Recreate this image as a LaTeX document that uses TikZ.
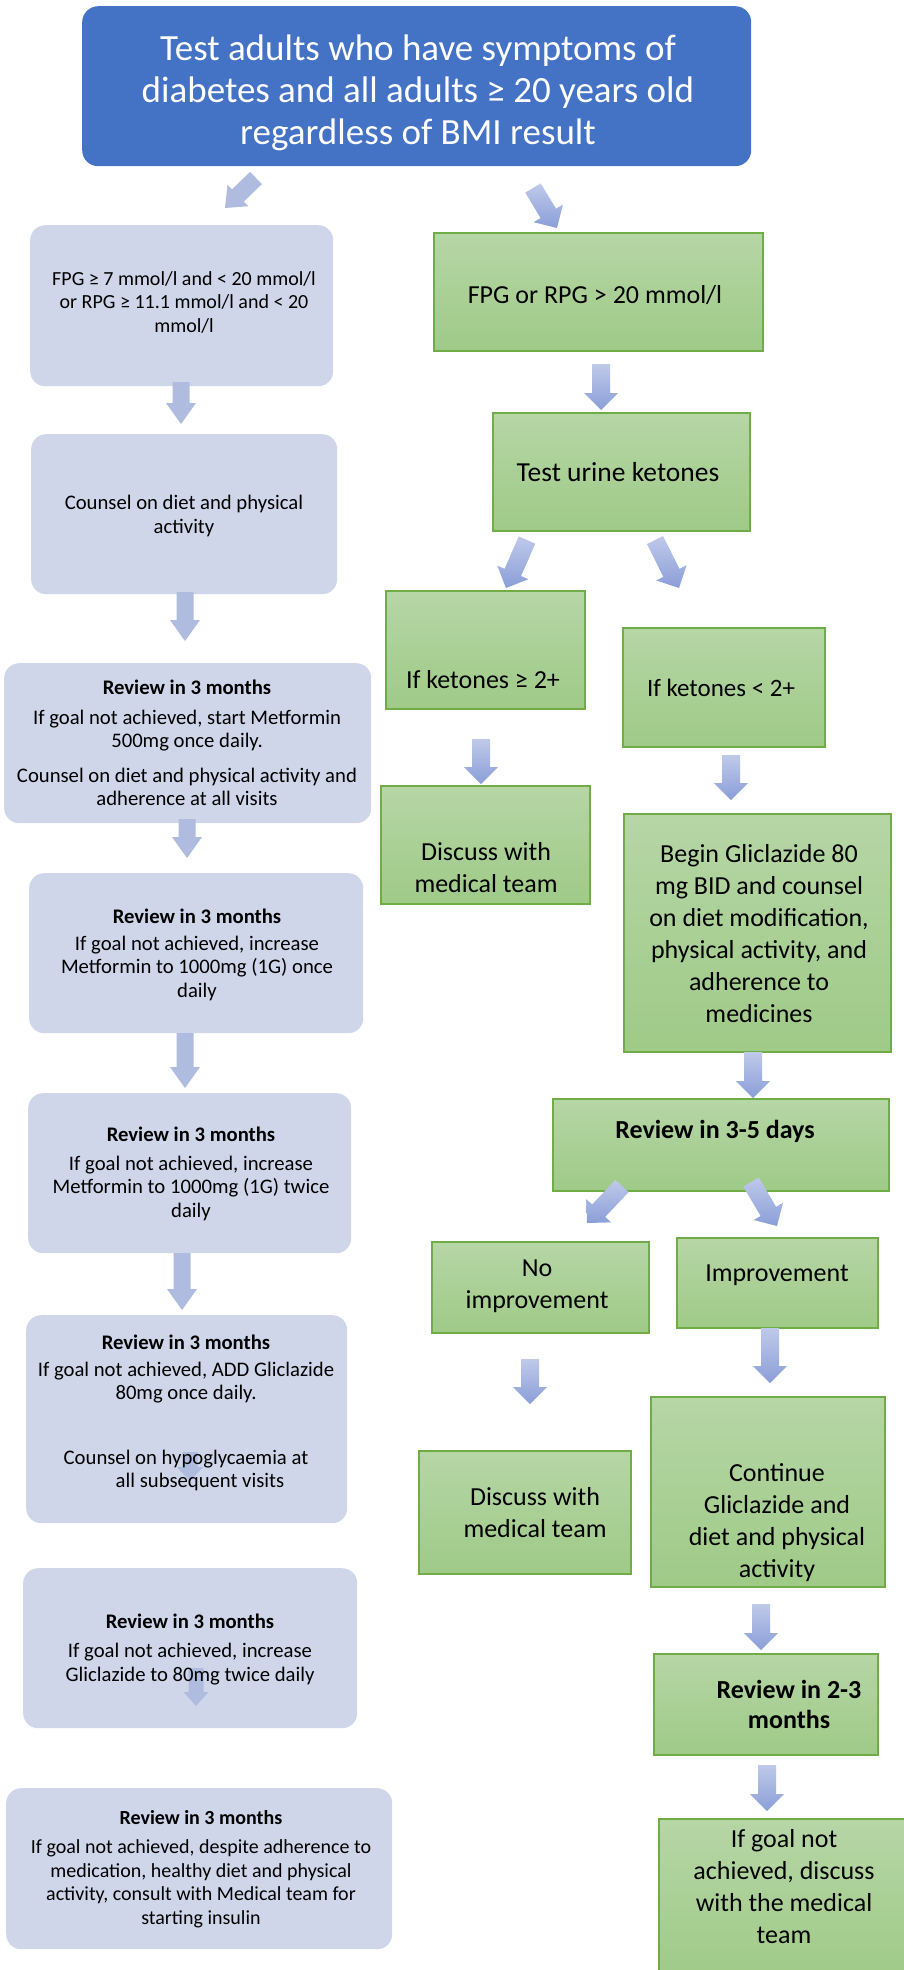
\documentclass[tikz,border=0pt]{standalone}
\usepackage{fontspec}
\setmainfont{Carlito}
\usetikzlibrary{calc}
\definecolor{topblue}{HTML}{4472C4}
\definecolor{lavbox}{HTML}{D0D6EA}
\definecolor{lavarrow}{HTML}{AFBCDF}
\definecolor{garrowtop}{HTML}{BFC9E9}
\definecolor{garrowbot}{HTML}{8A9ED8}
\definecolor{gtop}{HTML}{B6D6A6}
\definecolor{gbot}{HTML}{9FCA87}
\definecolor{gborder}{HTML}{70AD47}
\newcommand{\fatarrow}[6]{%
  \coordinate (fa-h) at ($(#3)!#6!(#2)$);
  \path[#1] ($(#2)!#4!90:(#3)$) -- ($(fa-h)!#4!-90:(#2)$) -- ($(fa-h)!#5!-90:(#2)$) -- (#3)
    -- ($(fa-h)!#5!90:(#2)$) -- ($(fa-h)!#4!90:(#2)$) -- ($(#2)!#4!-90:(#3)$) -- cycle;
}
\tikzset{
  bluebox/.style={fill=topblue, rounded corners=16pt, anchor=north west, inner sep=0pt},
  lbox/.style={fill=lavbox, rounded corners=15pt, anchor=north west, inner sep=0pt},
  gbox/.style={top color=gtop, bottom color=gbot, draw=gborder, line width=1.6pt, anchor=north west, inner sep=0pt},
  btext/.style={font=\fontsize{37}{42}\selectfont, text=white, align=center, inner sep=0pt},
  ltext/.style={font=\fontsize{20.7}{23.5}\selectfont, align=center, inner sep=0pt},
  gtext/.style={font=\fontsize{26}{32}\selectfont, align=center, inner sep=0pt},
  flatarrow/.style={fill=lavarrow},
  shadearrow/.style={top color=garrowtop, bottom color=garrowbot},
}
\begin{document}
\begin{tikzpicture}[x=1pt, y=-1pt]
\useasboundingbox (0,0) rectangle (904,1970);

% ---------- top box ----------
\node[bluebox, minimum width=669pt, minimum height=160pt] (T) at (82,6) {};
\node[btext] (Tt) at (418,93) {Test adults who have symptoms of\\diabetes and all adults ≥ 20 years old\\regardless of BMI result};

% ---------- left column boxes ----------
\node[lbox, minimum width=303pt, minimum height=161pt] (L1) at (30,225) {};
\node[lbox, minimum width=306pt, minimum height=160pt] (L2) at (31,434) {};
\node[lbox, minimum width=367pt, minimum height=160pt] (L3) at (4,663) {};
\node[lbox, minimum width=334pt, minimum height=160pt] (L4) at (29,873) {};
\node[lbox, minimum width=323pt, minimum height=160pt] (L5) at (28,1093) {};
\node[lbox, minimum width=321pt, minimum height=208pt] (L6) at (26,1315) {};
\node[lbox, minimum width=334pt, minimum height=160pt] (L7) at (23,1568) {};
\node[lbox, minimum width=386pt, minimum height=161pt] (L8) at (6,1788) {};

% ---------- right column boxes ----------
\node[gbox, minimum width=329pt, minimum height=118pt] (G1) at (433,232) {};
\node[gbox, minimum width=257pt, minimum height=118pt] (G2) at (492,412) {};
\node[gbox, minimum width=199pt, minimum height=118pt] (G3) at (385,590) {};
\node[gbox, minimum width=202pt, minimum height=119pt] (G4) at (622,627) {};
\node[gbox, minimum width=209pt, minimum height=118pt] (G5) at (380,785) {};
\node[gbox, minimum width=267pt, minimum height=238pt] (G6) at (623,813) {};
\node[gbox, minimum width=336pt, minimum height=92pt] (G7) at (552,1098) {};
\node[gbox, minimum width=217pt, minimum height=91pt] (G8) at (431,1241) {};
\node[gbox, minimum width=201pt, minimum height=90pt] (G9) at (676,1237) {};
\node[gbox, minimum width=212pt, minimum height=123pt] (G10) at (418,1450) {};
\node[gbox, minimum width=234pt, minimum height=190pt] (G11) at (650,1396) {};
\node[gbox, minimum width=224pt, minimum height=101pt] (G12) at (653,1653) {};
\node[gbox, minimum width=257pt, minimum height=162pt] (G13) at (658,1818) {};

% ---------- arrow end points ----------
\coordinate (a0s) at (256,178);  \coordinate (a0e) at (225,208);
\coordinate (a1s) at (181,382);  \coordinate (a1e) at (181,424);
\coordinate (a2s) at (185,592);  \coordinate (a2e) at (185,641);
\coordinate (a3s) at (187,819);  \coordinate (a3e) at (187,858);
\coordinate (a4s) at (185,1033); \coordinate (a4e) at (185,1088);
\coordinate (a5s) at (182,1253); \coordinate (a5e) at (182,1310);
\coordinate (a6s) at (190,1452); \coordinate (a6e) at (190,1481);
\coordinate (a7s) at (196,1668); \coordinate (a7e) at (196,1706);

\coordinate (b0s) at (533,188);  \coordinate (b0e) at (557,228);
\coordinate (b1s) at (601,364);  \coordinate (b1e) at (601,410);
\coordinate (b2s) at (527,540);  \coordinate (b2e) at (506,588);
\coordinate (b3s) at (655,540);  \coordinate (b3e) at (679,588);
\coordinate (b4s) at (481,739);  \coordinate (b4e) at (481,784);
\coordinate (b5s) at (731,755);  \coordinate (b5e) at (731,800);
\coordinate (b6s) at (753,1052); \coordinate (b6e) at (753,1098);
\coordinate (b7s) at (622,1186); \coordinate (b7e) at (587,1223);
\coordinate (b8s) at (751,1182); \coordinate (b8e) at (777,1226);
\coordinate (b9s) at (530,1359); \coordinate (b9e) at (530,1404);
\coordinate (b10s) at (770,1328); \coordinate (b10e) at (770,1383);
\coordinate (b11s) at (761,1604); \coordinate (b11e) at (761,1650);
\coordinate (b12s) at (767,1765); \coordinate (b12e) at (767,1811);

% ---------- left arrows ----------
\fatarrow{flatarrow}{a0s}{a0e}{8.5pt}{15pt}{18pt}
\fatarrow{flatarrow}{a1s}{a1e}{8.5pt}{15pt}{21pt}
\fatarrow{flatarrow}{a2s}{a2e}{8.5pt}{15pt}{21pt}
\fatarrow{flatarrow}{a3s}{a3e}{8.5pt}{15pt}{21pt}
\fatarrow{flatarrow}{a4s}{a4e}{8.5pt}{15pt}{21pt}
\fatarrow{flatarrow}{a5s}{a5e}{8.5pt}{15pt}{21pt}
\fatarrow{flatarrow}{a6s}{a6e}{7.5pt}{13pt}{14pt}
\fatarrow{flatarrow}{a7s}{a7e}{7.5pt}{12.5pt}{14pt}

% ---------- right arrows ----------
\fatarrow{shadearrow}{b0s}{b0e}{9pt}{17pt}{17pt}
\fatarrow{shadearrow}{b1s}{b1e}{9pt}{17pt}{17pt}
\fatarrow{shadearrow}{b2s}{b2e}{9pt}{17pt}{17pt}
\fatarrow{shadearrow}{b3s}{b3e}{9pt}{17pt}{17pt}
\fatarrow{shadearrow}{b4s}{b4e}{9pt}{17pt}{17pt}
\fatarrow{shadearrow}{b5s}{b5e}{9pt}{17pt}{17pt}
\fatarrow{shadearrow}{b6s}{b6e}{9pt}{17pt}{17pt}
\fatarrow{shadearrow}{b7s}{b7e}{9pt}{17pt}{17pt}
\fatarrow{shadearrow}{b8s}{b8e}{9pt}{17pt}{17pt}
\fatarrow{shadearrow}{b9s}{b9e}{9pt}{17pt}{17pt}
\fatarrow{shadearrow}{b10s}{b10e}{9pt}{17pt}{17pt}
\fatarrow{shadearrow}{b11s}{b11e}{9pt}{17pt}{17pt}
\fatarrow{shadearrow}{b12s}{b12e}{9pt}{17pt}{17pt}

% ---------- left texts ----------
\node[ltext, font=\fontsize{20}{23.5}\selectfont] (L1t) at (184,302) {FPG ≥ 7 mmol/l and < 20 mmol/l\\or RPG ≥ 11.1 mmol/l and < 20\\mmol/l};
\node[ltext] (L2t) at (184,516) {Counsel on diet and physical\\activity};
\node[ltext] (L3t) at (187,743) {\textbf{Review in 3 months}\\[6pt]If goal not achieved, start Metformin\\500mg once daily.\\[11pt]Counsel on diet and physical activity and\\adherence at all visits};
\node[ltext] (L4t) at (197,955) {\textbf{Review in 3 months}\\[3pt]If goal not achieved, increase\\Metformin to 1000mg (1G) once\\daily};
\node[ltext] (L5t) at (191,1174) {\textbf{Review in 3 months}\\[5pt]If goal not achieved, increase\\Metformin to 1000mg (1G) twice\\daily};
\node[ltext] (L6t) at (186,1413) {\textbf{Review in 3 months}\\[3pt]If goal not achieved, ADD Gliclazide\\80mg once daily.\\[41pt]Counsel on hypoglycaemia at\\\hspace*{28pt}all subsequent visits};
\node[ltext] (L7t) at (190,1649) {\textbf{Review in 3 months}\\[6pt]If goal not achieved, increase\\Gliclazide to 80mg twice daily};
\node[ltext, font=\fontsize{20}{23.5}\selectfont] (L8t) at (201,1869) {\textbf{Review in 3 months}\\[6pt]If goal not achieved, despite adherence to\\medication, healthy diet and physical\\activity, consult with Medical team for\\starting insulin};

% ---------- right texts ----------
\node[gtext] (G1t) at (595,295) {FPG or RPG > 20 mmol/l};
\node[gtext, font=\fontsize{27.5}{32}\selectfont] (G2t) at (618,472) {Test urine ketones};
\node[gtext] (G3t) at (483,680) {If ketones ≥ 2+};
\node[gtext, font=\fontsize{25}{32}\selectfont] (G4t) at (721,688) {If ketones < 2+};
\node[gtext] (G5t) at (486,868) {Discuss with\\medical team};
\node[gtext] (G6t) at (759,934) {Begin Gliclazide 80\\mg BID and counsel\\on diet modification,\\physical activity, and\\adherence to\\medicines};
\node[gtext, font=\fontsize{26}{31}\selectfont\bfseries] (G7t) at (715,1131) {Review in 3-5 days};
\node[gtext] (G8t) at (537,1286) {No\\improvement};
\node[gtext] (G9t) at (777,1275) {Improvement};
\node[gtext] (G10t) at (535,1513) {Discuss with\\medical team};
\node[gtext] (G11t) at (777,1523) {Continue\\Gliclazide and\\diet and physical\\activity};
\node[gtext, font=\fontsize{26}{30}\selectfont\bfseries] (G12t) at (789,1704) {Review in 2-3\\months};
\node[gtext] (G13t) at (784,1887) {If goal not\\achieved, discuss\\with the medical\\team};
\end{tikzpicture}
\end{document}
